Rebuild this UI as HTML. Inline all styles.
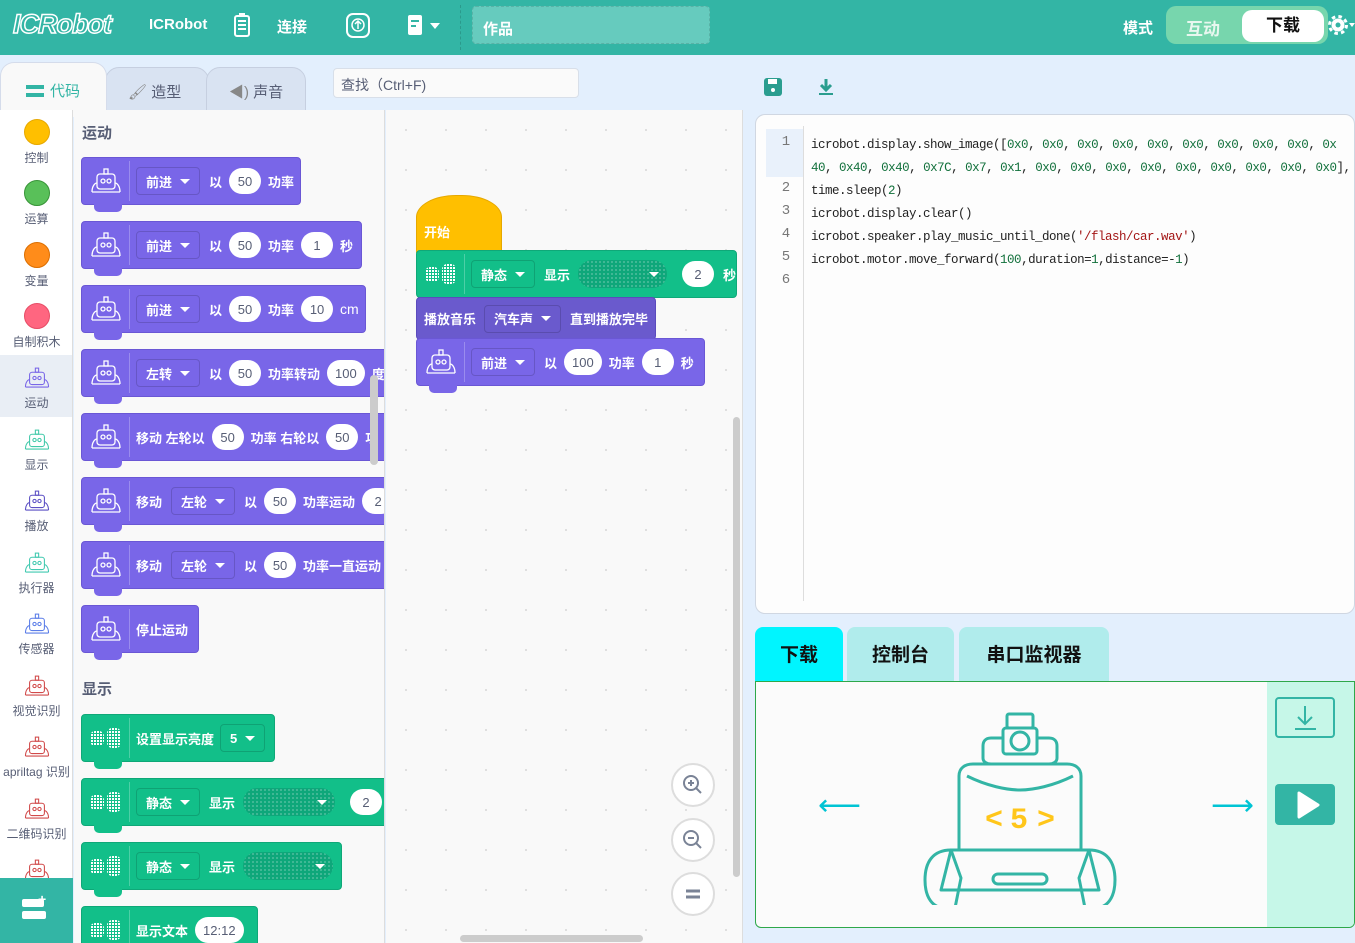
<!DOCTYPE html>
<html><head><meta charset="utf-8">
<style>
*{box-sizing:border-box;margin:0;padding:0}
body{width:1355px;height:943px;overflow:hidden;background:#e3effd;font-family:"Liberation Sans","Noto Sans CJK SC",sans-serif;position:relative}
.a{position:absolute}
.hdr{left:0;top:0;width:1355px;height:55px;background:#33b5a5}
.ht{color:#fff;font-weight:bold;font-size:15px}
.blk{position:absolute;height:48px;border-radius:4px;display:flex;align-items:center;color:#fff;font-weight:bold;font-size:13px;white-space:nowrap}
.blk .ic{width:48px;height:40px;border-right:1px solid rgba(255,255,255,.25);margin-right:6px;display:flex;align-items:center;justify-content:center;flex-shrink:0}
.blk .n{position:absolute;left:12px;bottom:-8px;width:28px;height:9px;border-radius:0 0 5px 5px}
.pu{background:#7966e8;border:1px solid #6a57d5}
.pu .n{background:#7966e8}
.gr{background:#12bf89;border:1px solid #0fa878}
.gr .n{background:#12bf89}
.dd{border:1px solid rgba(0,0,0,.15);border-radius:4px;padding:0 9px;height:28px;display:flex;align-items:center;margin-right:9px}
.dd:after{content:"";border:5px solid transparent;border-top:5px solid #fff;border-bottom:0;margin-left:8px}
.ov{background:#fff;color:#575e75;font-weight:normal;border-radius:14px;height:26px;min-width:32px;padding:0 8px;display:flex;align-items:center;justify-content:center;margin:0 7px}
.mx{background:#0ea77a;border-radius:14px;height:28px;width:92px;margin:0 8px;display:flex;align-items:center;justify-content:flex-end;padding-right:8px;background-image:radial-gradient(circle,rgba(255,255,255,.22) 1px,transparent 1.2px);background-size:4px 4px}
.mx:after{content:"";border:5px solid transparent;border-top:5px solid #fff;border-bottom:0}
.cat{position:absolute;left:0;width:73px;text-align:center;font-size:12px;color:#575e75}
.dot{width:26px;height:26px;border-radius:50%;margin:0 auto 4px}
.code{font-family:"Liberation Mono","Noto Sans CJK SC",monospace;font-size:12.5px;color:#222;letter-spacing:-0.5px}
.g{color:#11703b}.r{color:#a31515}
.ln{position:absolute;left:768px;width:36px;text-align:center;color:#777;font-family:"Liberation Mono",monospace;font-size:14px}
.zb{position:absolute;left:671px;width:44px;height:44px;border-radius:50%;border:2px solid #ddd;background:#fff;display:flex;align-items:center;justify-content:center}
.ci{display:block;margin:0 auto 2px}
</style></head><body>
<svg width="0" height="0" style="position:absolute"><defs>
<symbol id="rb" viewBox="0 0 34 30"><g fill="none" stroke="currentColor" stroke-width="1.3"><rect x="8" y="8" width="18" height="15" rx="3"/><circle cx="14" cy="15" r="2"/><circle cx="20" cy="15" r="2"/><rect x="15" y="3" width="4" height="5"/><path d="M3 26c0-6 3-9 5-9M31 26c0-6-3-9-5-9M3 26h28"/></g></symbol>
<pattern id="p" width="3" height="3" patternUnits="userSpaceOnUse"><rect width="2" height="2" fill="#fff"/></pattern>
<symbol id="mt" viewBox="0 0 36 26"><rect x="2" y="6" width="14" height="15" rx="5" fill="url(#p)"/><rect x="19" y="3" width="14" height="20" rx="5" fill="url(#p)"/></symbol>
</defs></svg>

<div class="a hdr"></div>
<div class="a" style="left:13px;top:9px;font:italic bold 27px 'Liberation Sans',sans-serif;color:#33b5a5;-webkit-text-stroke:1.5px #fff;letter-spacing:-1px">ICRobot</div>
<div class="a ht" style="left:149px;top:16px">ICRobot</div>
<svg class="a" style="left:233px;top:12px" width="18" height="26"><rect x="2" y="4" width="14" height="20" rx="2" fill="none" stroke="#fff" stroke-width="2"/><rect x="6" y="1" width="6" height="3" fill="#fff"/><rect x="5" y="8" width="8" height="2" fill="#fff"/><rect x="5" y="12" width="8" height="2" fill="#fff"/><rect x="5" y="16" width="8" height="2" fill="#fff"/></svg>
<div class="a ht" style="left:277px;top:16px">连接</div>
<svg class="a" style="left:343px;top:10px" width="30" height="30"><rect x="4" y="4" width="22" height="23" rx="6" fill="none" stroke="#fff" stroke-width="2"/><circle cx="15" cy="15" r="6" fill="none" stroke="#fff" stroke-width="1.5"/><path d="M15 19V11M12 14l3-3 3 3" stroke="#fff" fill="none" stroke-width="1.5"/></svg>
<svg class="a" style="left:406px;top:13px" width="36" height="24"><rect x="2" y="2" width="14" height="20" rx="2" fill="#fff"/><rect x="5" y="7" width="8" height="2" fill="#33b5a5"/><rect x="5" y="12" width="5" height="2" fill="#33b5a5"/><path d="M24 10h10l-5 6z" fill="#fff"/></svg>
<div class="a" style="left:460px;top:5px;width:1px;height:45px;border-left:1px dashed rgba(0,0,0,.15)"></div>
<div class="a" style="left:472px;top:6px;width:238px;height:38px;background:#66cbbe;border:1px dashed rgba(0,0,0,.12);border-radius:4px;color:#fff;font-weight:bold;font-size:15px;padding:11px 10px">作品</div>
<div class="a ht" style="left:1123px;top:17px">模式</div>
<div class="a" style="left:1166px;top:6px;width:162px;height:38px;background:#77d6ad;border-radius:10px"></div>
<div class="a" style="left:1186px;top:15px;color:#e8f7ef;font-weight:bold;font-size:17px">互动</div>
<div class="a" style="left:1242px;top:10px;width:82px;height:32px;background:#fff;border-radius:10px;color:#111;font-weight:bold;font-size:17px;text-align:center;line-height:32px">下载</div>
<svg class="a" style="left:1328px;top:14px" width="27" height="24"><circle cx="10" cy="11" r="6.5" fill="#fff"/><circle cx="10" cy="11" r="8.5" fill="none" stroke="#fff" stroke-width="3" stroke-dasharray="3.5 3.2"/><circle cx="10" cy="11" r="2.5" fill="#33b5a5"/><path d="M21 9h6l-3 4z" fill="#fff"/></svg>

<!-- tabs -->
<div class="a" style="left:105px;top:67px;width:104px;height:50px;background:#d9e3f2;border:1px solid #c6cfe0;border-radius:14px 14px 0 0"></div>
<div class="a" style="left:206px;top:67px;width:100px;height:50px;background:#d9e3f2;border:1px solid #c6cfe0;border-radius:14px 14px 0 0"></div>
<div class="a" style="left:0;top:62px;width:107px;height:55px;background:#f9f9f9;border:1px solid #d5dceb;border-bottom:0;border-radius:14px 14px 0 0"></div>
<div class="a" style="left:26px;top:80px;color:#33b5a5;font-size:15px"><span style="display:inline-block;width:18px;height:12px;border-top:4px solid #33b5a5;border-bottom:4px solid #33b5a5;vertical-align:-1px;margin-right:6px"></span>代码</div>
<div class="a" style="left:128px;top:81px;color:#575e75;font-size:15px"><span style="color:#888">&#x1F58C;</span> 造型</div>
<div class="a" style="left:229px;top:81px;color:#575e75;font-size:15px"><span style="color:#888">◀)</span> 声音</div>
<div class="a" style="left:333px;top:68px;width:246px;height:30px;background:#fafafa;border:1px solid #d8dfe9;border-radius:4px;padding:6px 7px;font-size:14px;color:#575e75">查找（Ctrl+F)</div>

<!-- category column -->
<div class="a" style="left:0;top:110px;width:73px;height:833px;background:#fff;border-right:1px solid #ddd"></div>
<div class="a" style="left:0;top:355px;width:72px;height:62px;background:#e9eef5"></div>
<div class="cat" style="top:119px"><div class="dot" style="background:#ffbf00;border:1px solid #e6a800"></div>控制</div>
<div class="cat" style="top:180px"><div class="dot" style="background:#59c059;border:1px solid #389438"></div>运算</div>
<div class="cat" style="top:242px"><div class="dot" style="background:#ff8c1a;border:1px solid #db6e00"></div>变量</div>
<div class="cat" style="top:303px"><div class="dot" style="background:#ff6680;border:1px solid #e64d66"></div>自制积木</div>
<div class="cat" style="top:364px;color:#575e75"><svg class="ci" width="28" height="28" style="color:#7966e8"><use href="#rb"/></svg>运动</div>
<div class="cat" style="top:426px"><svg class="ci" width="28" height="28" style="color:#41c9a9"><use href="#rb"/></svg>显示</div>
<div class="cat" style="top:487px"><svg class="ci" width="28" height="28" style="color:#5b4fc4"><use href="#rb"/></svg>播放</div>
<div class="cat" style="top:549px"><svg class="ci" width="28" height="28" style="color:#41c9b0"><use href="#rb"/></svg>执行器</div>
<div class="cat" style="top:610px"><svg class="ci" width="28" height="28" style="color:#5b7de8"><use href="#rb"/></svg>传感器</div>
<div class="cat" style="top:672px"><svg class="ci" width="28" height="28" style="color:#d14a4a"><use href="#rb"/></svg>视觉识别</div>
<div class="cat" style="top:733px"><svg class="ci" width="28" height="28" style="color:#d14a4a"><use href="#rb"/></svg>apriltag 识别</div>
<div class="cat" style="top:795px"><svg class="ci" width="28" height="28" style="color:#d14a4a"><use href="#rb"/></svg>二维码识别</div>
<div class="cat" style="top:856px"><svg class="ci" width="28" height="28" style="color:#d14a4a"><use href="#rb"/></svg></div>
<div class="a" style="left:0;top:878px;width:73px;height:65px;background:#33b5a5"></div>
<div class="a" style="left:22px;top:899px;width:22px;height:8px;background:#fff;border-radius:2px"></div>
<div class="a" style="left:22px;top:911px;width:24px;height:8px;background:#fff;border-radius:2px"></div>
<div class="a" style="left:38px;top:891px;color:#fff;font-weight:bold;font-size:14px">+</div>

<!-- palette -->
<div class="a" style="left:74px;top:110px;width:311px;height:833px;background:#f9f9f9;overflow:hidden;border-right:1px solid #ddd">
<div class="a" style="left:8px;top:12px;font-weight:bold;font-size:15px;color:#575e75">运动</div>

<div class="blk pu" style="left:7px;top:47px;width:220px"><div class="ic"><svg width="34" height="30" style="color:#fff"><use href="#rb"/></svg></div><div class="dd">前进</div><span>以</span><div class="ov">50</div><span>功率</span><i class="n"></i></div>
<div class="blk pu" style="left:7px;top:111px;width:281px"><div class="ic"><svg width="34" height="30" style="color:#fff"><use href="#rb"/></svg></div><div class="dd">前进</div><span>以</span><div class="ov">50</div><span>功率</span><div class="ov">1</div><span>秒</span><i class="n"></i></div>
<div class="blk pu" style="left:7px;top:175px;width:285px"><div class="ic"><svg width="34" height="30" style="color:#fff"><use href="#rb"/></svg></div><div class="dd">前进</div><span>以</span><div class="ov">50</div><span>功率</span><div class="ov">10</div><span style="font-weight:normal;font-size:14px">cm</span><i class="n"></i></div>
<div class="blk pu" style="left:7px;top:239px;width:360px"><div class="ic"><svg width="34" height="30" style="color:#fff"><use href="#rb"/></svg></div><div class="dd">左转</div><span>以</span><div class="ov">50</div><span>功率转动</span><div class="ov">100</div><span>度</span><i class="n"></i></div>
<div class="blk pu" style="left:7px;top:303px;width:360px"><div class="ic"><svg width="34" height="30" style="color:#fff"><use href="#rb"/></svg></div><span>移动 左轮以</span><div class="ov">50</div><span>功率 右轮以</span><div class="ov">50</div><span>功</span><i class="n"></i></div>
<div class="blk pu" style="left:7px;top:367px;width:360px"><div class="ic"><svg width="34" height="30" style="color:#fff"><use href="#rb"/></svg></div><span style="margin-right:9px">移动</span><div class="dd">左轮</div><span>以</span><div class="ov">50</div><span>功率运动</span><div class="ov">2</div><i class="n"></i></div>
<div class="blk pu" style="left:7px;top:431px;width:360px"><div class="ic"><svg width="34" height="30" style="color:#fff"><use href="#rb"/></svg></div><span style="margin-right:9px">移动</span><div class="dd">左轮</div><span>以</span><div class="ov">50</div><span>功率一直运动</span><i class="n"></i></div>
<div class="blk pu" style="left:7px;top:495px;width:118px"><div class="ic"><svg width="34" height="30" style="color:#fff"><use href="#rb"/></svg></div><span>停止运动</span><i class="n"></i></div>

<div class="a" style="left:8px;top:568px;font-weight:bold;font-size:15px;color:#575e75">显示</div>
<div class="blk gr" style="left:7px;top:604px;width:194px"><div class="ic"><svg width="36" height="26"><use href="#mt"/></svg></div><span style="margin-right:6px">设置显示亮度</span><div class="dd">5</div><i class="n"></i></div>
<div class="blk gr" style="left:7px;top:668px;width:360px"><div class="ic"><svg width="36" height="26"><use href="#mt"/></svg></div><div class="dd">静态</div><span>显示</span><div class="mx"></div><div class="ov">2</div><i class="n"></i></div>
<div class="blk gr" style="left:7px;top:732px;width:261px"><div class="ic"><svg width="36" height="26"><use href="#mt"/></svg></div><div class="dd">静态</div><span>显示</span><div class="mx"></div><i class="n"></i></div>
<div class="blk gr" style="left:7px;top:796px;width:177px"><div class="ic"><svg width="36" height="26"><use href="#mt"/></svg></div><span>显示文本</span><div class="ov">12:12</div></div>
<div class="a" style="left:296px;top:265px;width:8px;height:90px;background:#ccc;border-radius:4px"></div>
</div>

<!-- workspace -->
<div class="a" style="left:386px;top:110px;width:357px;height:833px;background-color:#f9f9f9;background-image:radial-gradient(circle,#ddd 1px,transparent 1.2px);background-size:40px 40px;border-right:1px solid #ddd;overflow:hidden">
<div class="a" style="left:30px;top:85px;width:86px;height:58px;background:#ffbf00;border:1px solid #e6a800;border-radius:40px 40px 0 0 / 22px 22px 0 0"></div>
<div class="a" style="left:38px;top:112px;color:#fff;font-weight:bold;font-size:13px">开始</div>
<div class="blk gr" style="left:30px;top:140px;width:321px"><div class="ic"><svg width="36" height="26"><use href="#mt"/></svg></div><div class="dd">静态</div><span>显示</span><div class="mx"></div><div class="ov">2</div><span style="margin-left:2px">秒</span></div>
<div class="blk" style="left:30px;top:187px;width:240px;height:43px;background:#6a5acd;border:1px solid #5b4bbd;padding-left:7px"><span style="margin-right:8px">播放音乐</span><div class="dd">汽车声</div><span>直到播放完毕</span></div>
<div class="blk pu" style="left:30px;top:228px;width:289px"><div class="ic"><svg width="34" height="30" style="color:#fff"><use href="#rb"/></svg></div><div class="dd">前进</div><span>以</span><div class="ov">100</div><span>功率</span><div class="ov">1</div><span>秒</span><i class="n"></i></div>
<div class="a" style="left:347px;top:307px;width:7px;height:460px;background:#ccc;border-radius:4px"></div>
<div class="a" style="left:74px;top:825px;width:183px;height:7px;background:#ccc;border-radius:4px"></div>
</div>
<div class="zb" style="top:763px"><svg width="24" height="24"><circle cx="10" cy="10" r="7" fill="none" stroke="#7a8396" stroke-width="2"/><path d="M15 15l5 5M7 10h6M10 7v6" stroke="#7a8396" stroke-width="2"/></svg></div>
<div class="zb" style="top:818px"><svg width="24" height="24"><circle cx="10" cy="10" r="7" fill="none" stroke="#7a8396" stroke-width="2"/><path d="M15 15l5 5M7 10h6" stroke="#7a8396" stroke-width="2"/></svg></div>
<div class="zb" style="top:872px"><svg width="24" height="24"><path d="M5 9h14M5 15h14" stroke="#7a8396" stroke-width="3"/></svg></div>

<!-- code panel -->
<svg class="a" style="left:763px;top:77px" width="20" height="20"><rect x="1" y="1" width="18" height="18" rx="3" fill="#2a9d8f"/><rect x="5" y="2" width="9" height="5" fill="#fff"/><circle cx="10" cy="13" r="2" fill="#fff"/></svg>
<svg class="a" style="left:816px;top:77px" width="20" height="20"><path d="M10 2v10M5 8l5 5 5-5" stroke="#2a9d8f" stroke-width="3" fill="none"/><rect x="3" y="16" width="14" height="2" fill="#2a9d8f"/></svg>
<div class="a" style="left:755px;top:114px;width:600px;height:500px;background:#fdfdfd;border:1px solid #d0d7e2;border-radius:10px"></div>
<div class="a" style="left:766px;top:129px;width:37px;height:48px;background:#e9f1fb"></div>
<div class="a" style="left:803px;top:126px;width:1px;height:475px;background:#ddd"></div>
<div class="ln" style="top:134px">1</div><div class="ln" style="top:180px">2</div><div class="ln" style="top:203px">3</div><div class="ln" style="top:226px">4</div><div class="ln" style="top:249px">5</div><div class="ln" style="top:272px">6</div>
<div class="a code" style="left:811px;top:134px;line-height:23px;white-space:pre">icrobot.display.show_image([<span class="g">0x0</span>, <span class="g">0x0</span>, <span class="g">0x0</span>, <span class="g">0x0</span>, <span class="g">0x0</span>, <span class="g">0x0</span>, <span class="g">0x0</span>, <span class="g">0x0</span>, <span class="g">0x0</span>, <span class="g">0x</span>
<span class="g">40</span>, <span class="g">0x40</span>, <span class="g">0x40</span>, <span class="g">0x7C</span>, <span class="g">0x7</span>, <span class="g">0x1</span>, <span class="g">0x0</span>, <span class="g">0x0</span>, <span class="g">0x0</span>, <span class="g">0x0</span>, <span class="g">0x0</span>, <span class="g">0x0</span>, <span class="g">0x0</span>, <span class="g">0x0</span>, <span class="g">0x0</span>], <span class="g">0</span>)
time.sleep(<span class="g">2</span>)
icrobot.display.clear()
icrobot.speaker.play_music_until_done(<span class="r">'/flash/car.wav'</span>)
icrobot.motor.move_forward(<span class="g">100</span>,duration=<span class="g">1</span>,distance=-<span class="g">1</span>)</div>

<!-- bottom panel -->
<div class="a" style="left:755px;top:627px;width:88px;height:55px;background:#00f5ff;border-radius:8px 8px 0 0;text-align:center;line-height:57px;font-weight:bold;font-size:19px;color:#111">下载</div>
<div class="a" style="left:847px;top:627px;width:107px;height:55px;background:#b0ecec;border-radius:8px 8px 0 0;text-align:center;line-height:57px;font-weight:bold;font-size:19px;color:#111">控制台</div>
<div class="a" style="left:959px;top:627px;width:150px;height:55px;background:#b0ecec;border-radius:8px 8px 0 0;text-align:center;line-height:57px;font-weight:bold;font-size:19px;color:#111">串口监视器</div>
<div class="a" style="left:755px;top:681px;width:600px;height:247px;background:#fbfbfb;border:1px solid #2ea84a;border-radius:0 0 6px 6px;overflow:hidden">
<div class="a" style="left:511px;top:0;width:89px;height:247px;background:#c6f7e8"></div>
<div class="a" style="left:519px;top:15px;width:60px;height:41px;border:2px solid #33b5a5;border-radius:4px"></div>
<svg class="a" style="left:535px;top:20px" width="30" height="32"><path d="M14 4v18M7 15l7 7 7-7M4 27h21" stroke="#33b5a5" stroke-width="2" fill="none"/></svg>
<div class="a" style="left:519px;top:102px;width:60px;height:41px;background:#33b5a5;border-radius:4px"></div>
<svg class="a" style="left:540px;top:108px" width="26" height="30"><path d="M3 3L22 15L3 27z" fill="#fff" stroke="#fff" stroke-width="3" stroke-linejoin="round"/></svg>
<div class="a" style="left:62px;top:106px;color:#00c4d4;font-size:30px">⟵</div>
<div class="a" style="left:455px;top:106px;color:#00c4d4;font-size:30px">⟶</div>
<svg class="a" style="left:165px;top:28px" width="220" height="195"><g fill="none" stroke="#33b5a5" stroke-width="3" stroke-linejoin="round">
<rect x="86" y="4" width="26" height="14" rx="2"/><rect x="82" y="18" width="34" height="26" rx="3"/><circle cx="99" cy="31" r="9"/>
<path d="M70 28h12M116 28h12M70 28c-6 0-8 4-8 8v12c0 4 4 6 8 6h58c4 0 8-2 8-6V36c0-4-2-8-8-8"/>
<path d="M38 66c0-8 6-12 14-12h94c8 0 14 4 14 12v74H38z"/><path d="M46 66c20 10 40 14 53 14s33-4 53-14"/>
<path d="M30 140h138l10 40H20z"/><path d="M20 180h158"/>
<rect x="72" y="164" width="54" height="10" rx="5"/>
<path d="M30 140c-18 0-26 12-26 30s8 28 20 28h10l6-30z"/><path d="M168 140c18 0 26 12 26 30s-8 28-20 28h-10l-6-30z"/>
</g>
<g fill="#ffc61a" font-family="Liberation Mono,monospace" font-weight="bold" font-size="30"><text x="64" y="118">&lt;</text><text x="89" y="118">5</text><text x="116" y="118">&gt;</text></g></svg>
</div>
</body></html>
